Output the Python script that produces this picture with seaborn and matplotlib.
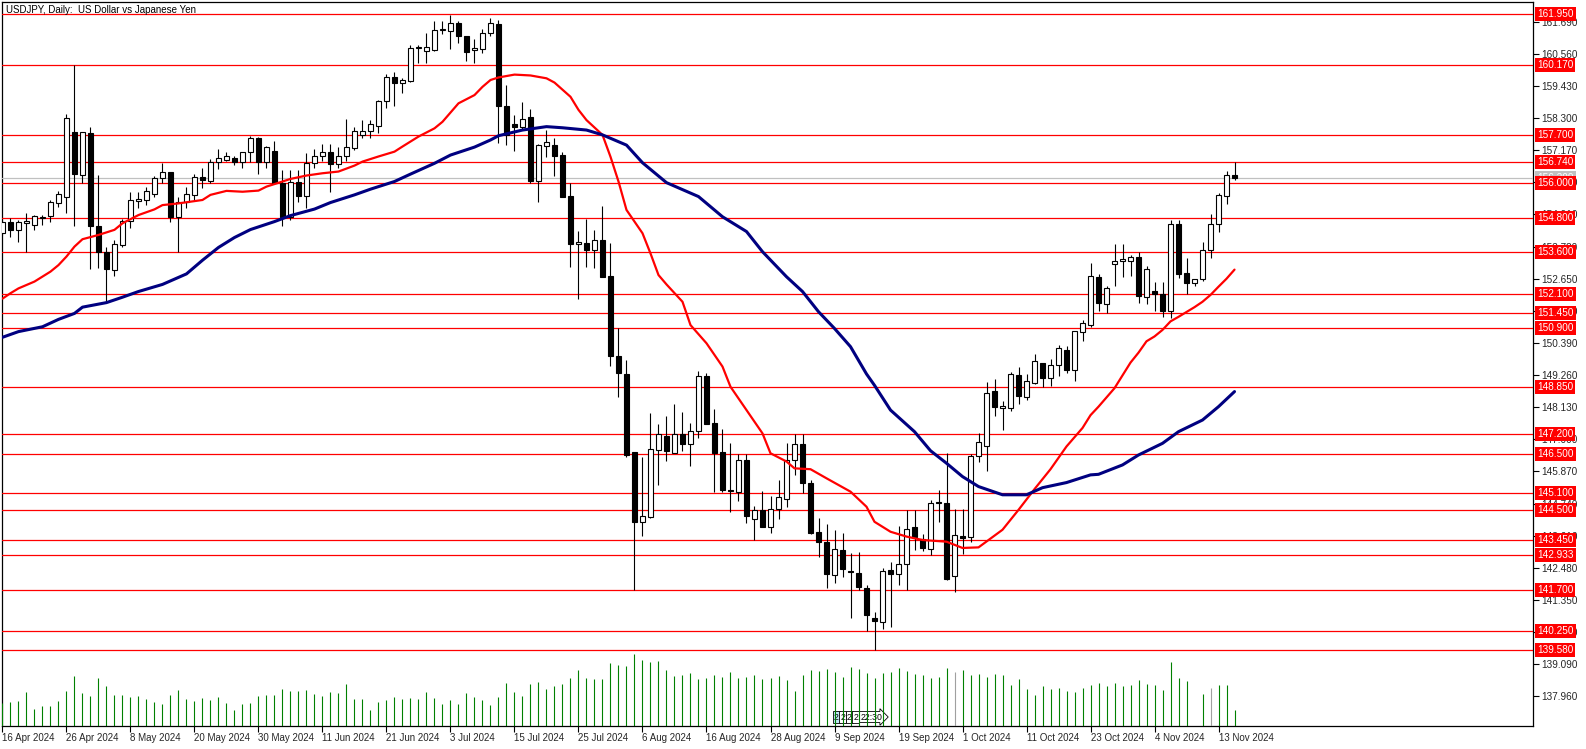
import numpy as np
import pandas as pd
import matplotlib
matplotlib.use("Agg")
import matplotlib.pyplot as plt
import seaborn as sns

# ---------------- data ----------------
title = "USDJPY, Daily:  US Dollar vs Japanese Yen"
date_labels = ["16 Apr 2024", "26 Apr 2024", "8 May 2024", "20 May 2024", "30 May 2024",
               "11 Jun 2024", "21 Jun 2024", "3 Jul 2024", "15 Jul 2024", "25 Jul 2024",
               "6 Aug 2024", "16 Aug 2024", "28 Aug 2024", "9 Sep 2024", "19 Sep 2024",
               "1 Oct 2024", "11 Oct 2024", "23 Oct 2024", "4 Nov 2024", "13 Nov 2024"]
label_bars = [0, 8, 16, 24, 32, 40, 48, 56, 64, 72, 80, 88, 96, 104, 112, 120, 128, 136, 144, 152]

opens = [154.25, 154.66, 154.37, 154.60, 154.54, 154.80, 154.84, 155.30, 155.54, 157.80,
         156.30, 157.77, 154.52, 153.58, 152.96, 153.84, 154.68, 155.40, 155.42, 155.62,
         156.18, 156.39, 154.83, 155.34, 155.60, 156.23, 156.10, 156.74, 156.84, 156.88,
         156.74, 157.12, 157.59, 156.74, 157.14, 156.00, 154.83, 156.06, 155.57, 156.71,
         156.98, 157.10, 156.68, 156.98, 157.24, 157.71, 157.83, 158.03, 158.90, 159.73,
         159.52, 159.62, 160.75, 160.67, 160.70, 161.40, 161.38, 161.66, 161.20, 160.70,
         160.72, 161.28, 161.60, 158.73, 158.08, 158.00, 158.33, 156.09, 157.33, 157.35,
         157.00, 155.56, 153.86, 153.90, 153.66, 154.01, 152.75, 149.93, 149.29, 146.54,
         144.10, 144.28, 146.62, 147.12, 146.53, 147.19, 146.82, 147.30, 149.24, 147.56,
         146.54, 145.22, 145.14, 146.27, 144.19, 144.52, 143.91, 144.56, 144.89, 146.27,
         146.82, 145.45, 143.73, 143.40, 142.23, 143.10, 142.37, 142.29, 141.76, 140.70,
         140.56, 142.40, 142.25, 142.61, 143.91, 143.49, 143.13, 144.81, 144.77, 142.20,
         143.60, 143.56, 146.43, 146.78, 148.69, 148.09, 148.11, 149.26, 148.50, 148.98,
         149.70, 149.16, 149.60, 150.16, 149.45, 150.79, 151.03, 152.71, 151.75, 153.18,
         153.26, 153.26, 153.41, 151.99, 152.21, 152.13, 151.53, 154.57, 152.85, 152.49,
         152.63, 153.65, 154.56, 155.57, 156.29]
highs = [154.70, 154.78, 154.72, 154.95, 154.90, 154.90, 155.42, 155.74, 158.43, 160.17,
         157.80, 158.00, 156.30, 153.76, 154.01, 154.75, 155.71, 155.71, 155.89, 156.26,
         156.73, 156.40, 155.54, 155.89, 156.32, 156.53, 156.85, 157.21, 157.12, 156.98,
         157.12, 157.68, 157.65, 157.33, 157.50, 156.47, 156.47, 156.47, 157.06, 157.21,
         157.38, 157.38, 157.30, 158.27, 157.97, 158.24, 158.24, 158.94, 159.85, 159.93,
         159.70, 160.87, 160.87, 161.28, 161.73, 161.73, 161.93, 161.70, 161.20, 161.10,
         161.42, 161.81, 161.75, 159.46, 158.41, 158.86, 158.62, 157.39, 157.88, 157.59,
         157.10, 156.00, 154.33, 154.75, 154.37, 155.21, 153.90, 150.90, 149.79, 146.57,
         146.39, 147.92, 147.54, 147.82, 148.24, 147.95, 147.56, 149.42, 149.32, 148.06,
         147.36, 146.86, 146.49, 146.49, 144.66, 145.18, 145.02, 145.57, 146.88, 147.19,
         147.19, 145.57, 144.22, 144.01, 143.81, 143.69, 142.99, 143.03, 141.88, 140.92,
         142.46, 142.70, 143.95, 144.51, 144.51, 143.66, 144.87, 145.22, 146.51, 144.54,
         144.54, 146.47, 147.24, 149.00, 149.12, 148.36, 149.37, 149.56, 149.30, 150.00,
         149.70, 149.81, 150.31, 150.28, 150.82, 151.20, 153.19, 152.80, 152.40, 153.87,
         153.87, 153.48, 153.60, 153.10, 152.53, 152.53, 154.71, 154.71, 153.39, 152.63,
         153.94, 154.92, 155.65, 156.45, 156.74]
lows = [154.20, 154.13, 153.95, 153.58, 154.37, 154.54, 154.66, 155.19, 154.95, 154.52,
        156.03, 152.98, 153.04, 151.81, 152.75, 153.78, 154.45, 155.13, 155.24, 155.54,
        156.03, 154.66, 153.58, 155.13, 155.42, 155.83, 156.03, 156.51, 156.79, 156.65,
        156.56, 156.74, 156.34, 156.56, 156.00, 154.52, 154.72, 155.36, 155.13, 156.53,
        156.79, 155.71, 156.53, 156.79, 157.18, 157.59, 157.59, 157.77, 158.64, 158.73,
        159.17, 159.58, 160.23, 160.23, 160.67, 161.26, 160.72, 160.93, 160.31, 160.25,
        160.58, 161.19, 157.41, 157.36, 157.16, 157.88, 156.03, 155.36, 156.94, 156.28,
        155.54, 153.08, 151.93, 153.08, 153.02, 152.72, 149.58, 148.50, 146.39, 141.70,
        143.60, 144.22, 145.40, 146.24, 146.53, 146.59, 146.07, 147.04, 147.54, 145.16,
        145.16, 144.46, 144.84, 144.05, 143.46, 143.91, 143.70, 144.20, 144.63, 145.75,
        145.13, 143.67, 142.85, 141.76, 141.94, 142.17, 140.70, 141.70, 140.27, 139.60,
        140.32, 140.41, 141.88, 141.70, 143.11, 143.08, 142.93, 144.10, 142.05, 141.64,
        142.95, 143.40, 146.21, 145.90, 147.82, 147.33, 148.01, 148.24, 148.38, 148.96,
        148.83, 148.87, 149.24, 149.34, 149.06, 150.47, 150.94, 151.51, 151.43, 152.39,
        152.71, 152.74, 151.81, 151.76, 151.53, 151.31, 151.28, 152.69, 152.10, 152.40,
        152.57, 153.39, 154.30, 155.27, 156.13]
closes = [154.66, 154.37, 154.66, 154.68, 154.84, 154.83, 155.36, 155.62, 158.29, 156.32,
          157.80, 154.52, 153.58, 152.98, 153.86, 154.68, 155.42, 155.45, 155.74, 156.18,
          156.39, 154.83, 155.34, 155.62, 156.24, 156.13, 156.74, 156.88, 156.96, 156.74,
          157.12, 157.59, 156.74, 157.30, 156.00, 154.83, 156.06, 155.57, 156.71, 156.98,
          157.10, 156.68, 156.98, 157.30, 157.83, 157.83, 158.08, 158.90, 159.73, 159.52,
          159.64, 160.75, 160.80, 160.81, 161.40, 161.43, 161.66, 161.20, 160.64, 160.77,
          161.28, 161.63, 158.73, 157.71, 158.00, 158.27, 156.09, 157.35, 157.45, 156.98,
          155.54, 153.86, 153.95, 153.66, 154.01, 152.72, 149.93, 149.35, 146.45, 144.10,
          144.30, 146.65, 147.19, 146.60, 147.19, 146.82, 147.30, 149.24, 147.54, 146.53,
          145.22, 145.20, 146.27, 144.32, 144.52, 143.91, 144.56, 144.96, 146.27, 146.82,
          145.45, 143.69, 143.40, 142.25, 143.13, 142.43, 142.34, 141.80, 140.82, 140.60,
          142.38, 142.25, 142.61, 143.85, 143.58, 143.19, 144.75, 144.75, 142.09, 143.64,
          143.54, 146.43, 146.89, 148.62, 148.15, 148.16, 149.30, 148.53, 149.07, 149.74,
          149.17, 149.61, 150.20, 149.45, 150.80, 151.08, 152.74, 151.81, 152.32, 153.26,
          153.34, 153.41, 152.03, 152.99, 152.11, 151.53, 154.57, 152.83, 152.51, 152.63,
          153.66, 154.57, 155.59, 156.29, 156.209]
# tick volume (arbitrary units)
volumes = [70, 73, 76, 103, 52, 61, 61, 76, 106, 151, 100, 91, 145, 121, 94, 94, 88, 91, 82, 73,
           67, 94, 109, 82, 76, 85, 79, 88, 70, 49, 67, 70, 91, 94, 94, 112, 106, 106, 109, 97,
           91, 103, 100, 127, 82, 82, 49, 73, 79, 88, 82, 85, 82, 103, 85, 67, 79, 67, 100, 88,
           79, 64, 88, 130, 103, 91, 127, 133, 112, 121, 127, 145, 169, 145, 142, 142, 190, 184, 181, 217,
           199, 193, 196, 169, 151, 154, 160, 142, 145, 154, 148, 163, 145, 148, 154, 142, 145, 151, 138, 106,
           152, 169, 166, 172, 163, 148, 178, 172, 160, 145, 158, 161, 175, 166, 155, 154, 145, 148, 175, 161,
           169, 152, 157, 148, 157, 154, 124, 142, 112, 94, 121, 112, 115, 106, 103, 115, 124, 130, 119, 130,
           119, 122, 139, 127, 124, 109, 193, 145, 134, 0, 97, 115, 124, 124, 47]

ma_fast_bars = [0, 1, 2, 4, 6, 7, 8, 9, 10, 12, 14, 15, 17, 19, 20, 22, 25, 26, 28, 30, 32, 33, 35,
                36, 38, 40, 42, 44, 45, 47, 49, 50, 52, 54, 55, 57, 59, 60, 61, 62, 64, 66, 68, 69,
                71, 72, 73, 75, 76, 77, 78, 80, 81, 82, 83, 85, 86, 88, 90, 91, 93, 95, 96, 98, 99,
                101, 103, 106, 108, 109, 111, 113, 115, 118, 120, 122, 125, 127, 129, 131, 133, 135,
                136, 137, 139, 141, 142, 143, 144, 145, 146, 147, 149, 150, 151, 152, 153, 154]
ma_fast_vals = [151.95, 152.14, 152.31, 152.55, 152.90, 153.13, 153.43, 153.78, 154.04, 154.19,
                154.37, 154.60, 154.89, 155.09, 155.24, 155.30, 155.42, 155.60, 155.74, 155.71,
                155.75, 155.89, 156.07, 156.16, 156.28, 156.36, 156.42, 156.63, 156.77, 156.95,
                157.12, 157.30, 157.65, 157.94, 158.17, 158.82, 159.11, 159.40, 159.64, 159.73,
                159.83, 159.80, 159.70, 159.55, 159.05, 158.59, 158.23, 157.71, 156.94, 156.07,
                155.07, 154.25, 153.54, 152.78, 152.45, 151.84, 151.02, 150.38, 149.56, 148.85,
                148.03, 147.21, 146.51, 146.22, 145.98, 145.95, 145.63, 145.16, 144.63, 144.10,
                143.75, 143.58, 143.46, 143.40, 143.18, 143.20, 143.82, 144.52, 145.25, 145.95,
                146.75, 147.40, 147.85, 148.15, 148.80, 149.70, 150.05, 150.45, 150.62, 150.85,
                151.15, 151.31, 151.65, 151.84, 152.08, 152.37, 152.65, 152.97]
ma_slow_bars = [0, 2, 5, 7, 9, 10, 13, 15, 17, 20, 23, 25, 27, 29, 31, 34, 36, 39, 41, 44, 46, 49,
                51, 54, 56, 59, 61, 62, 65, 68, 70, 73, 75, 78, 80, 83, 87, 90, 93, 95, 98, 100,
                102, 104, 106, 108, 109, 111, 114, 116, 118, 120, 122, 125, 128, 130, 133, 136,
                137, 140, 142, 145, 147, 150, 152, 154]
ma_slow_vals = [150.59, 150.79, 150.96, 151.22, 151.43, 151.65, 151.81, 152.00, 152.20, 152.45,
                152.82, 153.30, 153.75, 154.10, 154.38, 154.66, 154.87, 155.10, 155.33, 155.60,
                155.80, 156.07, 156.33, 156.71, 157.00, 157.28, 157.53, 157.68, 157.88, 158.00,
                157.96, 157.88, 157.71, 157.35, 156.73, 156.03, 155.54, 154.83, 154.31, 153.60,
                152.72, 152.20, 151.49, 150.90, 150.26, 149.30, 148.90, 148.03, 147.27, 146.60,
                146.16, 145.69, 145.34, 145.05, 145.05, 145.30, 145.48, 145.75, 145.77, 146.10,
                146.45, 146.86, 147.27, 147.68, 148.15, 148.68]

levels = [161.950, 160.170, 157.700, 156.740, 156.000, 154.800, 153.600, 152.100, 151.450,
          150.900, 148.850, 147.200, 146.500, 145.100, 144.500, 143.450, 142.933, 141.700,
          140.250, 139.580]
price_ticks = [161.69, 160.56, 159.43, 158.30, 157.17, 156.04, 154.91, 153.78, 152.65, 151.52,
               150.39, 149.26, 148.13, 147.00, 145.87, 144.74, 143.61, 142.48, 141.35, 140.22,
               139.09, 137.96]
current_price = 156.209
gray_volume_bars = [119, 151]

# ---------------- figure ----------------
sns.set_style("white")
plt.rcParams["font.family"] = ["Liberation Sans", "DejaVu Sans"]

W, H = 1586, 749
fig = plt.figure(figsize=(W / 100, H / 100), dpi=100)
fig.patch.set_facecolor("white")
ax = fig.add_axes([2 / W, 23 / H, 1531 / W, 724 / H])
ax.set_facecolor("white")

n = len(opens)
df = pd.DataFrame({"bar": np.arange(n), "open": opens, "high": highs, "low": lows,
                   "close": closes, "volume": volumes})

ax.set_xlim(-0.06, 191.31)
ax.set_ylim(136.917, 162.384)

# volumes (twin axis, bottom of chart)
ax2 = ax.twinx()
ax2.set_ylim(0, 2172)
ax2.set_xlim(ax.get_xlim())
vcolors = ["#a0a0a0" if b in gray_volume_bars else "#008000" for b in df["bar"]]
ax2.vlines(df["bar"], 0, df["volume"], colors=vcolors, lw=0.8, zorder=1)
ax2.set_yticks([])
for s in ax2.spines.values():
    s.set_visible(False)

# horizontal levels
for lv in levels:
    ax.axhline(lv, color="#ff0000", lw=0.9, zorder=4)
ax.axhline(current_price, color="#c0c0c0", lw=0.9, zorder=3.5)

# candles
ax.vlines(df["bar"], df["low"], df["high"], color="black", lw=0.8, zorder=5)
up = df["close"] >= df["open"]
body_bottom = np.minimum(df["open"], df["close"])
body_h = np.maximum(np.abs(df["close"] - df["open"]), 0.025)
ax.bar(df["bar"][up], body_h[up], bottom=body_bottom[up], width=0.56,
       color="white", edgecolor="black", linewidth=0.8, zorder=6)
ax.bar(df["bar"][~up], body_h[~up], bottom=body_bottom[~up], width=0.56,
       color="black", edgecolor="black", linewidth=0.8, zorder=6)

# moving averages
sns.lineplot(x=ma_fast_bars, y=ma_fast_vals, ax=ax, color="#ff0000", lw=1.6, zorder=7)
sns.lineplot(x=ma_slow_bars, y=ma_slow_vals, ax=ax, color="#000080", lw=2.2, zorder=7)
ax.set_xlabel("")
ax.set_ylabel("")

# spines
for s in ax.spines.values():
    s.set_visible(True)
    s.set_color("black")
    s.set_linewidth(0.9)

# x ticks / labels
ax.set_xticks(label_bars)
ax.set_xticklabels(date_labels, ha="left", fontsize=7.0)
ax.tick_params(axis="x", direction="out", length=4, width=0.8, color="black", pad=1,
               bottom=True)

# y ticks on the right
ax.yaxis.tick_right()
ax.set_yticks(price_ticks)
ax.set_yticklabels([f"{p:.3f}" for p in price_ticks], fontsize=7.2)
ax.tick_params(axis="y", direction="out", length=4, width=0.8, color="black", pad=2,
               right=True, left=False)

# level labels (red boxes)
xlab = 1 + 4 / 1531
ax.text(xlab, current_price, f"{current_price:.3f}", transform=ax.get_yaxis_transform(),
        ha="left", va="center", fontsize=7.2, color="white", clip_on=False, zorder=8,
        bbox=dict(boxstyle="square,pad=0.2", fc="#c0c0c0", ec="none"))
for lv in levels:
    ax.text(xlab, lv, f"{lv:.3f}", transform=ax.get_yaxis_transform(),
            ha="left", va="center", fontsize=7.2, color="white", clip_on=False, zorder=9,
            bbox=dict(boxstyle="square,pad=0.2", fc="#ff0000", ec="none"))

# title
ax.text(4 / 1531, 1 - 8 / 724, title, transform=ax.transAxes, ha="left", va="center",
        fontsize=7.0, color="black", zorder=10)

# small time-scale marker near bottom
tags = ["2", "2", "2", "2"]
x0 = (834 - 2) / 1531
for i, t in enumerate(tags):
    ax.text(x0 + i * 6.4 / 1531, 9 / 724, t, transform=ax.transAxes, ha="left", va="center",
            fontsize=6.3, color="black", zorder=10,
            bbox=dict(boxstyle="square,pad=0.12", fc="#bfe8f5" if i == 0 else "white",
                      ec="black", lw=0.6))
ax.text(x0 + 26.5 / 1531, 9 / 724, "22:30", transform=ax.transAxes, ha="left", va="center",
        fontsize=6.3, color="black", zorder=10,
        bbox=dict(boxstyle="rarrow,pad=0.12", fc="white", ec="black", lw=0.6))

fig.savefig("out.png", dpi=100, facecolor="white")
